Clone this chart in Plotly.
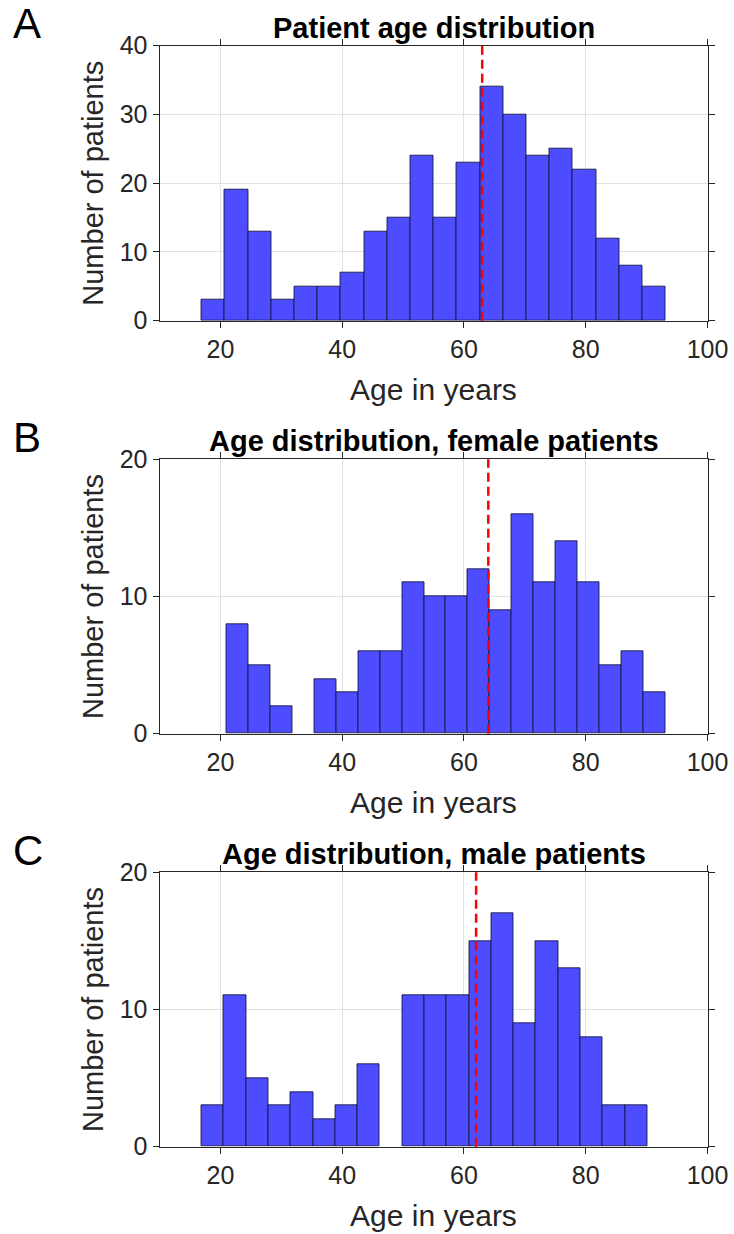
import plotly.graph_objects as go

# ---------------- data ----------------
x_tick_vals = [20, 40, 60, 80, 100]
x_tick_text = ["20", "40", "60", "80", "100"]

# Panel A: all patients
all_bin_start = 16.93
all_bin_width = 3.81
all_counts = [3, 19, 13, 3, 5, 5, 7, 13, 15, 24, 15, 23, 34, 30, 24, 25, 22, 12, 8, 5]
all_median = 63.0

# Panel B: female patients
female_bin_start = 20.98
female_bin_width = 3.607
female_counts = [8, 5, 2, 0, 4, 3, 6, 6, 11, 10, 10, 12, 9, 16, 11, 14, 11, 5, 6, 3]
female_median = 64.0

# Panel C: male patients
male_bin_start = 16.93
male_bin_width = 3.66
male_counts = [3, 11, 5, 3, 4, 2, 3, 6, 0, 11, 11, 11, 15, 17, 9, 15, 13, 8, 3, 3]
male_median = 62.0

titles = ["Patient age distribution",
          "Age distribution, female patients",
          "Age distribution, male patients"]
panel_letters = ["A", "B", "C"]
y_max = [40, 20, 20]

# ---------------- layout constants ----------------
W, H = 734, 1234
FONT = "Liberation Sans, Arial, sans-serif"
AX_COLOR = "#262626"
x_dom = [159.5 / W, 707.5 / W]
panel_px = [(45.7, 320.7), (459.3, 733.7), (872.3, 1146.7)]  # (top, bottom) in px

fig = go.Figure()

panels = [
    (all_bin_start, all_bin_width, all_counts, all_median),
    (female_bin_start, female_bin_width, female_counts, female_median),
    (male_bin_start, male_bin_width, male_counts, male_median),
]

annotations = []
shapes = []
for i, (start, width, counts, med) in enumerate(panels):
    n = i + 1
    xa = "x" if n == 1 else f"x{n}"
    ya = "y" if n == 1 else f"y{n}"
    centers = [start + width * (k + 0.5) for k in range(len(counts))]
    heights = [c if c > 0 else None for c in counts]
    fig.add_trace(go.Bar(
        x=centers, y=heights, width=width,
        marker=dict(color="#4d4dff", line=dict(color="rgba(20,20,60,0.85)", width=1)),
        xaxis=xa, yaxis=ya, showlegend=False, hoverinfo="x+y",
    ))
    top, bot = panel_px[i]
    y_dom = [1 - bot / H, 1 - top / H]
    axis_common = dict(
        showline=True, linecolor=AX_COLOR, linewidth=1, mirror="ticks",
        ticks="outside", ticklen=6, tickcolor=AX_COLOR, tickwidth=1,
        showgrid=True, gridcolor="#e1e1e1", gridwidth=1, zeroline=False,
        automargin=False,
        tickfont=dict(family=FONT, size=25, color=AX_COLOR),
    )
    fig.layout[f"xaxis{'' if n == 1 else n}"] = dict(
        axis_common, domain=x_dom, anchor=ya, range=[10, 100],
        tickvals=x_tick_vals, ticktext=x_tick_text,
        title=dict(text="Age in years", font=dict(family=FONT, size=30, color=AX_COLOR), standoff=17),
    )
    fig.layout[f"yaxis{'' if n == 1 else n}"] = dict(
        axis_common, domain=y_dom, anchor=xa, range=[0, y_max[i]], dtick=10,
        title=dict(text="Number of patients", font=dict(family=FONT, size=29, color=AX_COLOR), standoff=7),
    )
    shapes.append(dict(type="line", xref=xa, yref=f"{ya} domain", x0=med, x1=med, y0=0, y1=1,
                       line=dict(color="#ff0000", width=2.5, dash="9px,5px"), layer="above"))
    annotations.append(dict(text=f"<b>{titles[i]}</b>", xref="paper", yref="paper",
                            x=(x_dom[0] + x_dom[1]) / 2, y=1 - (top - 18) / H,
                            xanchor="center", yanchor="middle", showarrow=False,
                            font=dict(family=FONT, size=29, color="#000000")))
    annotations.append(dict(text=panel_letters[i], xref="paper", yref="paper",
                            x=11 / W, y=1 - (top - 22) / H,
                            xanchor="left", yanchor="middle", showarrow=False,
                            font=dict(family=FONT, size=42, color="#000000")))

fig.update_layout(
    width=W, height=H, margin=dict(l=0, r=0, t=0, b=0),
    paper_bgcolor="white", plot_bgcolor="white",
    bargap=0, shapes=shapes, annotations=annotations,
    font=dict(family=FONT, color=AX_COLOR),
)

fig.write_html("out.html")
